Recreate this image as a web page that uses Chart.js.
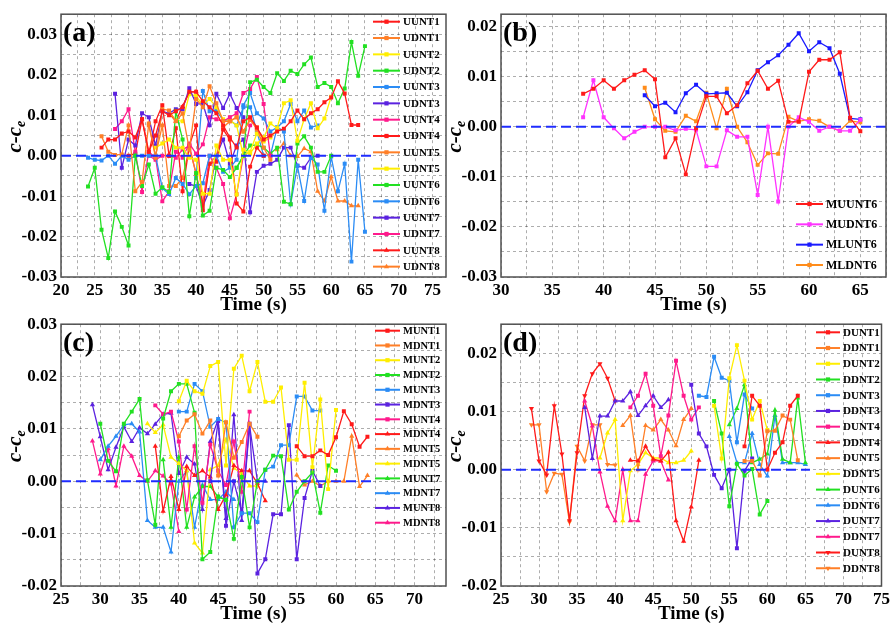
<!DOCTYPE html>
<html>
<head>
<meta charset="utf-8">
<script src="https://cdn.jsdelivr.net/npm/chart.js@4.4.1/dist/chart.umd.min.js"></script>
<style>
  html, body { margin: 0; padding: 0; background: #fff; }
  #wrap { position: relative; width: 893px; height: 627px; overflow: hidden; background: #fff; }
  canvas { position: absolute; }
</style>
</head>
<body>
<div id="wrap">
  <canvas id="chartA" width="450" height="320" style="left:0;top:0"></canvas>
  <canvas id="chartB" width="453" height="320" style="left:440px;top:0"></canvas>
  <canvas id="chartC" width="450" height="317" style="left:0;top:310px"></canvas>
  <canvas id="chartD" width="453" height="317" style="left:440px;top:310px"></canvas>
</div>
<script>
// ---------- panel (a) ----------
const UUNT1 = [0.002, 0.004, 0.004, 0.0055, 0.006, 0.0045, 0.009, 0.001, 0.005, 0.011, 0.010, 0.011, 0.012, 0.0158, 0.0158, 0.0135, 0.012, 0.0105, 0.0075, 0.0045, 0.002, 0.0085, 0.0095, 0.007, 0.004, 0.005, 0.006, 0.0067, 0.0085, 0.0112, 0.009, 0.0105, 0.0115, 0.0132, 0.0144, 0.0184, 0.0154, 0.0076, 0.0076];
const UDNT1 = [0.0048, 0.001, 0.0002, 0.0003, 0.0075, -0.0088, -0.0065, 0.008, -0.0005, 0.0115, 0.0112, 0.0085, 0.0105, 0.0015, 0.014, 0.012, 0.0172, 0.013, 0.0085, 0.0085, 0.0095, 0.006, 0.0088, 0.007, 0.002, -0.001];
const UUNT2 = [0.002, 0.003, 0.004, 0.002, 0.002, -0.0005, -0.001, -0.0094, -0.0094, 0.0025, -0.001, -0.001, -0.0096, 0.0015, 0.0005, 0.003, 0.0045, 0.008, 0.0068, 0.013, 0.0137, 0.0037, 0.009, 0.013, 0.0068, 0.0092, 0.0146];
const UDNT2 = [-0.0076, -0.003, -0.0183, -0.0253, -0.0138, -0.0176, -0.0222, 0.0, -0.0075, -0.0022, -0.0094, -0.0078, -0.009, 0.011, 0.004, -0.015, -0.0043, -0.0148, -0.0136, -0.003, -0.0035, -0.0053, -0.003, 0.0, 0.0182, 0.0188, 0.017, 0.0155, 0.0204, 0.0185, 0.021, 0.0202, 0.0226, 0.0243, 0.017, 0.018, 0.017, 0.013, 0.0166, 0.0281, 0.0198, 0.0271];
const UUNT3 = [-0.0005, -0.001, -0.0012, 0.0, -0.002, 0.0, -0.001, 0.0, 0.0, 0.0, 0.0, -0.008, -0.0095, -0.0055, -0.007, -0.0095, -0.0075, -0.0068, 0.0, 0.0, -0.004, -0.003, -0.001, 0.0125, 0.0155, 0.0105, 0.0092, 0.006, 0.007, 0.0085, 0.0128, 0.0085, 0.0112, 0.007, 0.0075];
const UDNT3 = [0.0153, -0.003, 0.004, 0.0025, 0.0105, 0.0095, 0.0025, 0.011, 0.0105, 0.0115, 0.0115, 0.0167, 0.0128, 0.0128, 0.0075, 0.0153, 0.0118, 0.0153, 0.0118, 0.0095];
const UUNT4 = [0.0066, 0.0085, 0.0115, 0.001, -0.009, 0.001, -0.0005, -0.0113, -0.0088, 0.001, -0.0005, 0.003, 0.0005, 0.0028, 0.0095, 0.009, 0.0085, 0.0095, 0.0105, 0.0155, 0.0165, 0.0195, 0.0128, 0.0];
const UDNT4 = [0.0, 0.0005, 0.009, 0.0005, 0.0085, 0.0125, 0.0, 0.0068, -0.0088, 0.0025, 0.0075, -0.0135, -0.002, -0.0015, 0.0065, 0.004, -0.0118, -0.0138, -0.0027, 0.002, 0.0];
const UUNT5 = [0.0075, 0.0, 0.0075, -0.0075, -0.0075, -0.0055, 0.002, -0.0045, -0.0125, -0.002, 0.0, 0.007, 0.0085, 0.0095, 0.006, 0.009, 0.0065, 0.0045];
const UDNT5 = [0.0108, 0.0088, 0.0085, 0.0152, 0.0148, 0.0125, 0.014, 0.012, 0.009, 0.0088, 0.0075, 0.0, 0.001, 0.0055, 0.0035, 0.0045, 0.0065];
const UUNT6 = [-0.003, 0.0, 0.0025, 0.0027, 0.002, 0.0005, 0.002, -0.0114, -0.012, 0.003, 0.0048, 0.002, -0.004, -0.004, 0.0];
const UDNT6 = [-0.0055, 0.016, 0.011, 0.0112, 0.0088, 0.0088, 0.0075, 0.012, 0.012, 0.006, 0.0, 0.0, 0.007, 0.006, -0.012, -0.0025, -0.0112, -0.0005, -0.0022, -0.0136, -0.0002, -0.0088, -0.002, -0.0262, -0.001, -0.0188];
const UUNT7 = [-0.007, -0.0075, -0.0125, -0.0085, 0.0, 0.004, -0.002, 0.0025, 0.004, -0.014, -0.004, -0.0025, -0.002, -0.001, 0.002, 0.002, -0.0025, -0.003, -0.0005, 0.0];
const UDNT7 = [0.0, -0.001, 0.0, 0.0, -0.0005, 0.0015, 0.0025, -0.0045, -0.012, 0.0, -0.003, -0.007, -0.0155, -0.0095, 0.0, 0.0075];
const UUNT8 = [0.0105, 0.0085, 0.0122, 0.0158, 0.0158];
const UDNT8 = [0.0015, 0.003, 0.0, -0.0002, 0.0018, 0.001, -0.0088, -0.0112, -0.0052, -0.0112, -0.0112, -0.0124, -0.0124];

const namesA = ['UUNT1', 'UDNT1', 'UUNT2', 'UDNT2', 'UUNT3', 'UDNT3', 'UUNT4', 'UDNT4', 'UUNT5', 'UDNT5', 'UUNT6', 'UDNT6', 'UUNT7', 'UDNT7', 'UUNT8', 'UDNT8'];
const valuesA = [UUNT1, UDNT1, UUNT2, UDNT2, UUNT3, UDNT3, UUNT4, UDNT4, UUNT5, UDNT5, UUNT6, UDNT6, UUNT7, UDNT7, UUNT8, UDNT8];
const startA = [26, 26, 34, 24, 24, 28, 28, 30, 33, 36, 46, 40, 39, 33, 36, 52];
const xTicksA = [20, 25, 30, 35, 40, 45, 50, 55, 60, 65, 70, 75];
const yTicksA = [-0.03, -0.02, -0.01, 0.00, 0.01, 0.02, 0.03];

// ---------- panel (b) ----------
const MUUNT6 = [0.0066, 0.0076, 0.0093, 0.0076, 0.0093, 0.0104, 0.0113, 0.0095, -0.0061, -0.0023, -0.0095, -0.0003, 0.0061, 0.0061, 0.0027, 0.0043, 0.0087, 0.0112, 0.0076, 0.0092, 0.001, 0.001, 0.011, 0.0134, 0.0134, 0.0149, 0.0018, -0.0009];
const MUDNT6 = [0.0019, 0.0093, 0.0019, -0.0003, -0.0023, -0.001, 0.0, 0.0, 0.0, -0.0007, -0.0004, -0.0006, -0.0079, -0.0079, -0.0007, -0.002, -0.002, -0.0136, 0.0, -0.0149, 0.0, 0.0019, 0.001, -0.0008, 0.0, -0.0008, -0.0008, 0.0014];
const MLUNT6 = [0.0063, 0.0041, 0.0048, 0.0029, 0.0067, 0.0084, 0.0066, 0.0067, 0.0068, 0.0041, 0.0069, 0.0113, 0.0129, 0.0143, 0.0164, 0.0187, 0.0151, 0.0169, 0.0157, 0.0106, 0.0017, 0.0015];
const MLDNT6 = [0.0078, 0.0015, -0.0008, -0.001, 0.0022, 0.0011, 0.0068, -0.0003, 0.0076, 0.0, -0.0031, -0.0076, -0.0053, -0.0054, 0.002, 0.0011, 0.0015, 0.0012, 0.0, -0.0008, 0.0012, 0.0009];

const namesB = ['MUUNT6', 'MUDNT6', 'MLUNT6', 'MLDNT6'];
const valuesB = [MUUNT6, MUDNT6, MLUNT6, MLDNT6];
const startB = [38, 38, 44, 44];
const xTicksB = [30, 35, 40, 45, 50, 55, 60, 65];
const yTicksB = [-0.03, -0.02, -0.01, 0.00, 0.01, 0.02];

// ---------- panel (c) ----------
const MUNT1 = [0.0067, 0.0048, 0.0048, 0.0059, 0.005, 0.0084, 0.0134, 0.0109, 0.0066, 0.0085];
const MDNT1 = [0.0086, 0.0116, 0.0128, 0.0091, 0.0116, 0.0011, 0.0113, 0.0045, 0.0075, 0.011, 0.0085];
const MUNT2 = [0.0153, 0.0192, 0.0172, 0.0167, 0.022, 0.0228, 0.003, 0.0215, 0.024, 0.0172, 0.0228, 0.0152, 0.0152, 0.0179, 0.0041, 0.0041, 0.0188, 0.0027, 0.0156, -0.0015, 0.0136];
const MDNT2 = [0.011, 0.0039, 0.0019, 0.011, 0.0133, 0.0157, 0.0002, -0.0083, 0.012, 0.0172, 0.0186, 0.0186, 0.0131, -0.0149, -0.0135, -0.0029, -0.0036, -0.011, 0.0008, -0.0088, 0.0, 0.0022, 0.0049, 0.0048, -0.0054, -0.002, 0.0, 0.0017, -0.006, 0.003, 0.002];
const MUNT3 = [0.0133, 0.0133, 0.0186, 0.0172, 0.0104, 0.0119, 0.0112, -0.0088, -0.0061, -0.0061, -0.0078, 0.0022, 0.0028, 0.0069, 0.0069, 0.0162, 0.0162, 0.0135, 0.0135];
const MDNT3 = [0.0, 0.0115, -0.0085, 0.0, -0.006, 0.011, -0.0176, -0.0149, -0.0063, -0.0063, 0.0107, -0.0149, -0.0032, 0.002, -0.0009];
const MUNT4 = [0.0145, 0.0128, 0.0133, 0.0076, -0.0054, 0.0067, -0.0041, 0.007, 0.002, -0.0007, 0.0076, -0.002, 0.0133];
const MDNT4 = [0.0067, -0.0057, 0.0009, -0.0054, 0.0028, 0.0011, 0.002, 0.0008, -0.0054, -0.0026, 0.003, 0.002, 0.002, -0.0004, -0.0037];
const MUNT5 = [0.0012, -0.0007, 0.0, -0.0009, 0.0, 0.0, 0.0, 0.0086, -0.001, 0.0011];
const MDNT5 = [0.011, 0.0093, 0.0108, 0.0046, 0.0034, 0.002, -0.0118, -0.0137, 0.0022, 0.003, 0.008, 0.0025, 0.0015, -0.0009, -0.0009];
const MUNT7 = [0.0041, -0.0088, 0.0046, -0.0088, -0.003, -0.001, -0.001, -0.003, -0.0035];
const MDNT7 = [0.0041, 0.0067, 0.0086, 0.0108, 0.011, 0.0094, -0.0075, -0.0088, -0.0088, -0.0135, 0.0, 0.002, -0.0088, -0.0007, -0.0035, -0.0035, -0.002, -0.0035];
const MUNT8 = [0.0146, 0.0085, 0.0022, 0.0065, 0.0104, 0.0076, 0.0102, 0.0091, 0.0109, 0.0128, 0.013, 0.0015, 0.0046, 0.0033, -0.0054, 0.0076, 0.0118, -0.0071, 0.0127, -0.0075, 0.0107, 0.0, 0.0];
const MDNT8 = [0.0077, 0.0014, 0.0062, -0.0009, 0.0067, 0.0048, 0.0011, 0.0, 0.002, 0.001, -0.0005, -0.0096];

const namesC = ['MUNT1', 'MDNT1', 'MUNT2', 'MDNT2', 'MUNT3', 'MDNT3', 'MUNT4', 'MDNT4', 'MUNT5', 'MDNT5', 'MUNT7', 'MDNT7', 'MUNT8', 'MDNT8'];
const valuesC = [MUNT1, MDNT1, MUNT2, MDNT2, MUNT3, MDNT3, MUNT4, MDNT4, MUNT5, MDNT5, MUNT7, MDNT7, MUNT8, MDNT8];
const startC = [55, 40, 40, 30, 40, 44, 37, 37, 55, 36, 38, 30, 29, 29];
const xTicksC = [25, 30, 35, 40, 45, 50, 55, 60, 65, 70];
const yTicksC = [-0.02, -0.01, 0.00, 0.01, 0.02, 0.03];

// ---------- panel (d) ----------
const DUNT1 = [0.004, 0.0127, 0.011, 0.0, 0.0029, 0.0047, 0.011, 0.0127];
const DDNT1 = [0.0015, 0.0015, -0.001, 0.0066, 0.0067, 0.0093, 0.0086, 0.0016];
const DUNT2 = [0.011, 0.0019, 0.0157, 0.0214, 0.0153, 0.0086, 0.0118, 0.0068];
const DDNT2 = [0.0118, 0.0062, -0.0063, 0.001, -0.001, 0.0001, -0.0077, -0.0054];
const DUNT3 = [0.0127, 0.0125, 0.0194, 0.0158, 0.0153, 0.0047, 0.0129, 0.0105];
const DDNT3 = [0.0146, 0.0062, 0.004, -0.0009, -0.0032, 0.0, -0.0135, -0.0002, 0.0019];
const DUNT4 = [0.0107, 0.0127, 0.0165, 0.011, 0.0023, 0.0093, 0.0187, 0.0127, 0.0086, 0.0107];
const DDNT4 = [0.0016, 0.0015, 0.004, 0.0018, 0.0015, 0.003, -0.0088, -0.0123, -0.0064, 0.0016];
const DUNT5 = [0.0076, 0.0093, 0.0, 0.0076, 0.0068, 0.0086, 0.0068, 0.0041, 0.0086, 0.0105];
const DDNT5 = [0.002, 0.0063, 0.0086, -0.0088, -0.0002, 0.0009, 0.0029, 0.002, 0.002, 0.0012, 0.0012, 0.0016, 0.0032];
const DUNT6 = [0.0077, 0.0105, 0.0146, 0.0012, 0.0018, 0.0027, 0.0102, 0.0018, 0.0012, 0.0123, 0.0012];
const DDNT6 = [0.0057, 0.0012, 0.0012, 0.0062, 0.0009, -0.0011, 0.0093, 0.0012, 0.0012, 0.0012, 0.0009];
const DUNT7 = [0.0107, 0.0019, 0.0092, 0.0092, 0.0118, 0.0118, 0.0134, 0.0093, 0.011, 0.0127, 0.0107, 0.012];
const DDNT7 = [0.0118, 0.0075, -0.0004, -0.0063, -0.0088, 0.0, -0.0088, -0.0088, -0.0008, 0.0015, 0.0015, -0.0018];
const DUNT8 = [0.0105, 0.0015, -0.0009, 0.011, 0.0027, -0.0088, 0.0029, 0.0127, 0.0165, 0.0182, 0.0157, 0.0118];
const DDNT8 = [0.0077, 0.0077, -0.0038, -0.0006, -0.0008, -0.009, 0.004, 0.0015, 0.0077, 0.0077, 0.0009, 0.0008];

const namesD = ['DUNT1', 'DDNT1', 'DUNT2', 'DDNT2', 'DUNT3', 'DDNT3', 'DUNT4', 'DDNT4', 'DUNT5', 'DDNT5', 'DUNT6', 'DDNT6', 'DUNT7', 'DDNT7', 'DUNT8', 'DDNT8'];
const valuesD = [DUNT1, DDNT1, DUNT2, DDNT2, DUNT3, DDNT3, DUNT4, DDNT4, DUNT5, DDNT5, DUNT6, DDNT6, DUNT7, DDNT7, DUNT8, DDNT8];
const startD = [57, 57, 53, 53, 51, 50, 42, 42, 41, 38, 55, 55, 36, 36, 29, 29];
const xTicksD = [25, 30, 35, 40, 45, 50, 55, 60, 65, 70, 75];
const yTicksD = [-0.02, -0.01, 0.00, 0.01, 0.02];

// colour cycle used in (a), (c), (d)
const palette = ['#ff1a1a', '#ff7f27', '#ffee00', '#22e022', '#2b8cf5', '#5b22e0', '#ff1a8c'];
const paletteB = ['#ff1a1a', '#ff33ff', '#1a1aff', '#ff8c1a'];

const SERIF = '"Liberation Serif", "Times New Roman", serif';

function gridValues(min, max, step) {
    const out = [];
    for (let v = min; v <= max + 1e-9; v += step) out.push(+v.toFixed(6));
    return out;
}

function drawMarker(ctx, style, rot, x, y, r, color) {
    ctx.fillStyle = color;
    ctx.beginPath();
    if (style === 'rect') {
        const s = r * Math.SQRT1_2;
        ctx.rect(x - s, y - s, 2 * s, 2 * s);
    } else {
        const dir = rot === 180 ? -1 : 1;
        ctx.moveTo(x, y - dir * r);
        ctx.lineTo(x - r * 0.866, y + dir * r * 0.5);
        ctx.lineTo(x + r * 0.866, y + dir * r * 0.5);
        ctx.closePath();
    }
    ctx.fill();
}

// legend drawn inside the frame
const insideLegend = {
    id: 'insideLegend',
    afterDatasetsDraw(chart, args, opts) {
        const ctx = chart.ctx;
        ctx.save();
        ctx.font = `bold ${opts.size}px ${SERIF}`;
        ctx.textBaseline = 'middle';
        ctx.textAlign = 'left';
        let k = 0;
        chart.data.datasets.forEach(ds => {
            if (ds.isRef) return;
            const y = opts.top + k * opts.gap;
            ctx.strokeStyle = ds.borderColor;
            ctx.lineWidth = 2;
            ctx.beginPath();
            ctx.moveTo(opts.x0, y);
            ctx.lineTo(opts.x1, y);
            ctx.stroke();
            drawMarker(ctx, ds.pointStyle, ds.pointRotation, (opts.x0 + opts.x1) / 2, y, 3, ds.borderColor);
            ctx.fillStyle = '#000';
            ctx.fillText(ds.label, opts.x1 + 3, y + 0.5);
            k++;
        });
        ctx.restore();
    }
};

// frame, panel letter and axis titles
const frameAndTitles = {
    id: 'frameAndTitles',
    afterDraw(chart, args, opts) {
        const { ctx, chartArea: a } = chart;
        ctx.save();
        ctx.strokeStyle = '#505050';
        ctx.lineWidth = 1.5;
        ctx.strokeRect(a.left, a.top, a.right - a.left, a.bottom - a.top);

        ctx.fillStyle = '#000';
        ctx.font = `bold 28px ${SERIF}`;
        ctx.textAlign = 'left';
        ctx.textBaseline = 'alphabetic';
        ctx.fillText(opts.letter, a.left + 2, a.top + 27);

        ctx.font = `bold 19px ${SERIF}`;
        ctx.textAlign = 'center';
        ctx.textBaseline = 'middle';
        ctx.fillText('Time (s)', (a.left + a.right) / 2, a.bottom + 28);

        // y title: c-c with subscript e
        ctx.translate(a.left - 40, (a.top + a.bottom) / 2 - 9);
        ctx.rotate(-Math.PI / 2);
        ctx.textAlign = 'left';
        ctx.textBaseline = 'alphabetic';
        ctx.font = `italic bold 21px ${SERIF}`;
        const wMain = ctx.measureText('c-c').width;
        ctx.font = `italic bold 14px ${SERIF}`;
        const wSub = ctx.measureText('e').width;
        const x0 = -(wMain + wSub) / 2;
        ctx.font = `italic bold 21px ${SERIF}`;
        ctx.fillText('c-c', x0, 0);
        ctx.font = `italic bold 14px ${SERIF}`;
        ctx.fillText('e', x0 + wMain, 4);
        ctx.restore();
    }
};

function makePanel(id, p) {
    const datasets = p.names.map((name, i) => {
        const vals = p.values[i];
        const color = p.colors[i % p.colors.length];
        const style = p.markers[i];
        return {
            label: name,
            data: vals.map((v, j) => ({ x: p.starts[i] + j, y: v })),
            borderColor: color,
            backgroundColor: color,
            borderWidth: 1.3,
            pointStyle: style === 'down' ? 'triangle' : style,
            pointRotation: style === 'down' ? 180 : 0,
            pointRadius: style === 'rect' ? 2.8 : 3,
            pointBorderWidth: 0,
            tension: 0,
            fill: false
        };
    });
    datasets.push({
        label: 'zero',
        isRef: true,
        data: [{ x: p.xMin, y: 0 }, { x: p.zeroEnd, y: 0 }],
        borderColor: '#1f2cff',
        borderWidth: 2,
        borderDash: [10, 5],
        pointRadius: 0,
        order: -1
    });

    const xGrid = gridValues(p.xMin, p.xMax, 2.5);
    const yGrid = gridValues(p.yTicks[0], p.yMax, 0.005);
    const isMajor = (list, v) => list.some(m => Math.abs(m - v) < 1e-9);
    const gridStyle = { color: 'rgba(0,0,0,0.32)', lineWidth: 1, drawTicks: false, tickLength: 0 };

    new Chart(document.getElementById(id), {
        type: 'line',
        data: { datasets },
        options: {
            responsive: false,
            animation: false,
            devicePixelRatio: 1,
            layout: { padding: { left: 0, right: p.padRight, top: p.padTop, bottom: 0 } },
            plugins: {
                legend: { display: false },
                tooltip: { enabled: false },
                insideLegend: p.legend,
                frameAndTitles: { letter: p.letter }
            },
            scales: {
                x: {
                    type: 'linear',
                    min: p.xMin,
                    max: p.xMax,
                    afterBuildTicks: s => { s.ticks = xGrid.map(v => ({ value: v })); },
                    afterFit: s => { s.height = p.xAxisH; },
                    grid: gridStyle,
                    border: { display: false, dash: [3, 3] },
                    ticks: {
                        autoSkip: false,
                        maxRotation: 0,
                        padding: 3,
                        color: '#000',
                        font: { family: SERIF, size: 17, weight: 'bold' },
                        callback: v => isMajor(p.xTicks, v) ? String(v) : ''
                    }
                },
                y: {
                    min: p.yTicks[0],
                    max: p.yMax,
                    afterBuildTicks: s => { s.ticks = yGrid.map(v => ({ value: v })); },
                    afterFit: s => { s.width = 61; },
                    grid: gridStyle,
                    border: { display: false, dash: [3, 3] },
                    ticks: {
                        autoSkip: false,
                        padding: 4,
                        color: '#000',
                        font: { family: SERIF, size: 17, weight: 'bold' },
                        callback: v => isMajor(p.yTicks, v) ? (Math.abs(v) < 1e-9 ? '0.00' : v.toFixed(2)) : ''
                    }
                }
            }
        },
        plugins: [insideLegend, frameAndTitles]
    });
}

// grid lines dashed
Chart.defaults.scale.grid.borderDash = [3, 3];
Chart.defaults.scale.border.dash = [3, 3];

const markersA = namesA.map((n, i) => (i < 14 ? 'rect' : 'triangle'));
const markersC = namesC.map((n, i) => (i < 7 ? 'rect' : 'triangle'));
const markersD = namesD.map((n, i) => (i < 7 ? 'rect' : (i < 14 ? 'triangle' : 'down')));

makePanel('chartA', {
    names: namesA, values: valuesA, starts: startA, colors: palette, markers: markersA,
    xMin: 20, xMax: 77, yMax: 0.035, xTicks: xTicksA, yTicks: yTicksA, zeroEnd: 66.2,
    padTop: 9, padRight: 3, xAxisH: 43, letter: '(a)',
    legend: { top: 21.7, gap: 16.33, x0: 373, x1: 400, size: 11 }
});
makePanel('chartB', {
    names: namesB, values: valuesB, starts: startB, colors: paletteB, markers: ['rect', 'rect', 'rect', 'rect'],
    xMin: 30, xMax: 67.5, yMax: 0.0225, xTicks: xTicksB, yTicks: yTicksB, zeroEnd: 67.5,
    padTop: 9, padRight: 7, xAxisH: 43, letter: '(b)',
    legend: { top: 204, gap: 20.33, x0: 356, x1: 383, size: 12 }
});
makePanel('chartC', {
    names: namesC, values: valuesC, starts: startC, colors: palette, markers: markersC,
    xMin: 25, xMax: 74, yMax: 0.03, xTicks: xTicksC, yTicks: yTicksC, zeroEnd: 64.6,
    padTop: 6, padRight: 4, xAxisH: 41, letter: '(c)',
    legend: { top: 20.7, gap: 14.77, x0: 375, x1: 400, size: 10.5 }
});
makePanel('chartD', {
    names: namesD, values: valuesD, starts: startD, colors: palette, markers: markersD,
    xMin: 25, xMax: 75, yMax: 0.025, xTicks: xTicksD, yTicks: yTicksD, zeroEnd: 65.6,
    padTop: 6, padRight: 7, xAxisH: 41, letter: '(d)',
    legend: { top: 22.3, gap: 15.73, x0: 376, x1: 400, size: 11 }
});
</script>
</body>
</html>
